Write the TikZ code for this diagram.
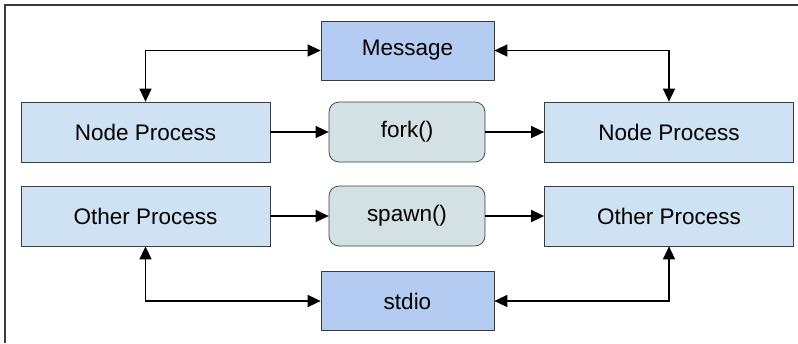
\documentclass[tikz,border=0pt]{standalone}
\usepackage{fontspec}
\setmainfont{Liberation Sans}
\usetikzlibrary{arrows.meta,positioning}

\definecolor{procblue}{RGB}{207,226,243}
\definecolor{chanblue}{RGB}{180,204,242}
\definecolor{callgray}{RGB}{211,224,228}
\definecolor{edgegray}{RGB}{60,60,60}

\begin{document}
\begin{tikzpicture}[
        >={Triangle[length=0.26cm,width=0.24cm]},
        font=\fontsize{12.8}{15}\selectfont,
        % Style for the process boxes
        proc/.style={rectangle, draw=edgegray, fill=procblue, text centered, minimum height=1.2cm, minimum width=4.98cm},
        % Style for the channel boxes (Message, stdio)
        chan/.style={rectangle, draw=edgegray, fill=chanblue, text centered, minimum height=1.18cm, minimum width=3.46cm},
        % Style for the call boxes (fork, spawn)
        call/.style={rectangle, draw=edgegray, fill=callgray, text centered, rounded corners=0.2cm, minimum height=1.2cm, minimum width=3.12cm},
        link/.style={thick, black}
    ]

        \useasboundingbox (0,0) rectangle (15.96,-6.86);
        % 0. Frame (top and left edges only)
        \draw[edgegray, line width=0.9pt] (0.1,-6.86) |- (15.96,-0.1);

        % 1. Channel boxes
        \node[chan] (msg) at (8.15,-1.01) {Message};
        \node[chan] (stdio) at (8.15,-6.02) {stdio};

        % 2. Node processes and fork()
        \node[proc] (nodeL) at (2.91,-2.64) {Node Process};
        \node[call] (fork) at (8.14,-2.64) {fork()};
        \node[proc] (nodeR) at (13.38,-2.64) {Node Process};

        % 3. Other processes and spawn()
        \node[proc] (otherL) at (2.91,-4.32) {Other Process};
        \node[call] (spawn) at (8.14,-4.32) {spawn()};
        \node[proc] (otherR) at (13.38,-4.32) {Other Process};

        % 4. Arrows
        \draw[link, ->] (nodeL) -- (fork);
        \draw[link, ->] (fork) -- (nodeR);
        \draw[link, ->] (otherL) -- (spawn);
        \draw[link, ->] (spawn) -- (otherR);
        \draw[link, <->] (msg.west) -| (nodeL.north);
        \draw[link, <->] (msg.east) -| (nodeR.north);
        \draw[link, <->] (stdio.west) -| (otherL.south);
        \draw[link, <->] (stdio.east) -| (otherR.south);

    \end{tikzpicture}
\end{document}
